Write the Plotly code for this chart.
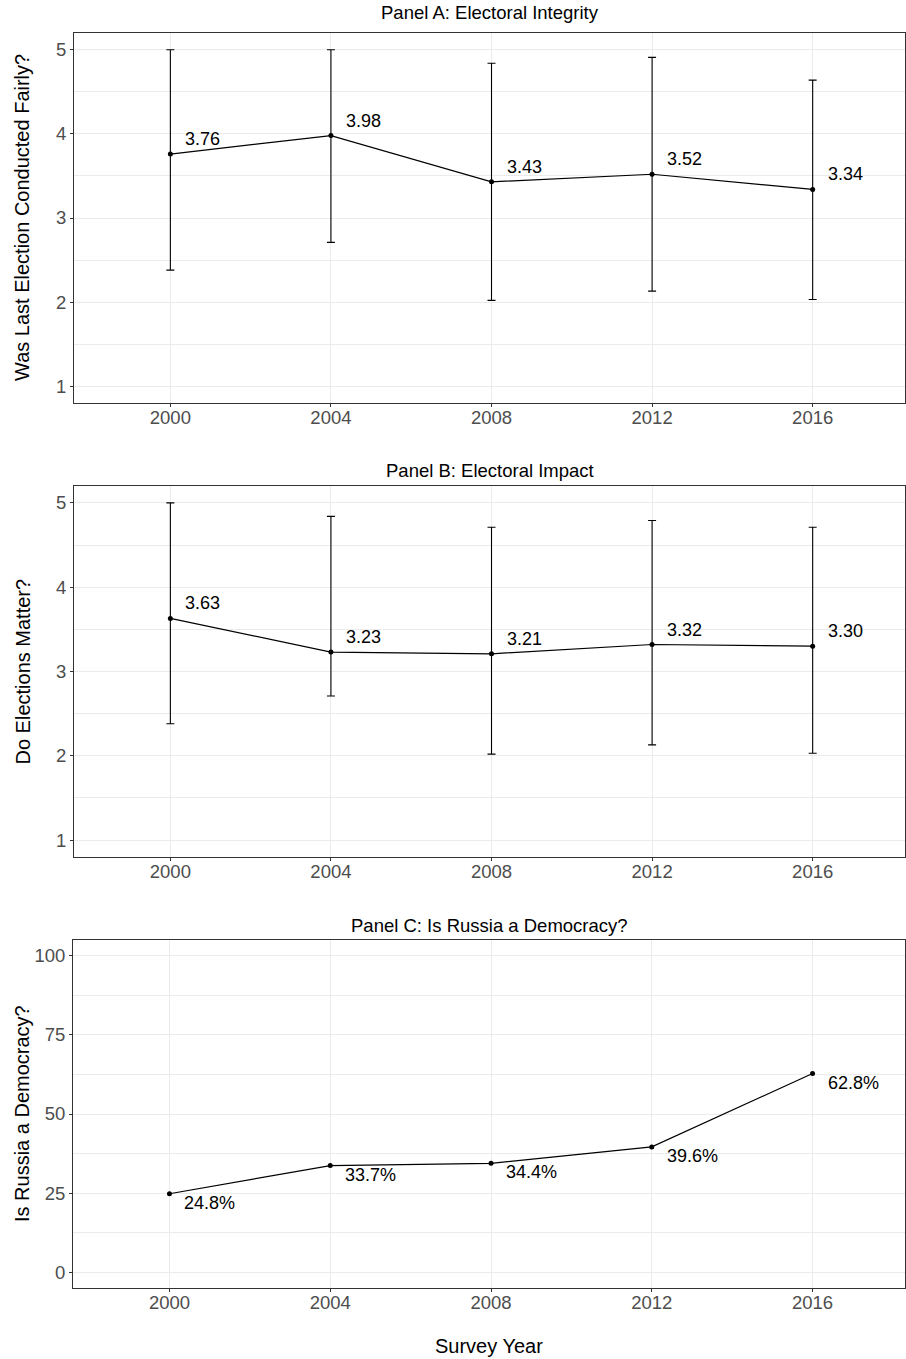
import plotly.graph_objects as go

# 資料
years = [2000, 2004, 2008, 2012, 2016]

fair_mean = [3.76, 3.98, 3.43, 3.52, 3.34]
fair_hi = [5.00, 5.00, 4.84, 4.91, 4.64]
fair_lo = [2.38, 2.71, 2.02, 2.13, 2.03]

matter_mean = [3.63, 3.23, 3.21, 3.32, 3.30]
matter_hi = [5.00, 4.84, 4.71, 4.79, 4.71]
matter_lo = [2.38, 2.71, 2.02, 2.13, 2.03]

democ_pct = [24.8, 33.7, 34.4, 39.6, 62.8]

likert_ticks = [1, 2, 3, 4, 5]
pct_ticks = [0, 25, 50, 75, 100]

W, H = 906, 1359
FONT = "Liberation Sans, Arial, Helvetica, sans-serif"
GRID = "#EBEBEB"
AXC = "#333333"
TICKC = "#4D4D4D"

# 每個面板的像素位置 (left, right, top, bottom, 標題中心 y)
panels = [
    (74, 905, 33, 403, 12),
    (74, 905, 486, 857, 470),
    (73, 905, 940, 1288, 925),
]

fig = go.Figure()


def dom_x(l, r):
    return [l / W, r / W]


def dom_y(t, b):
    return [1 - b / H, 1 - t / H]


def add_panel(i, mean, hi=None, lo=None, fmt="{:.2f}", below=False):
    xa = "x" if i == 1 else f"x{i}"
    ya = "y" if i == 1 else f"y{i}"
    err = None
    if hi is not None:
        err = dict(type="data", symmetric=False,
                   array=[h - m for h, m in zip(hi, mean)],
                   arrayminus=[m - l for m, l in zip(mean, lo)],
                   color="black", thickness=1.1, width=4)
    fig.add_trace(go.Scatter(
        x=years, y=mean, mode="lines+markers", xaxis=xa, yaxis=ya,
        line=dict(color="black", width=1.2),
        marker=dict(color="black", size=5),
        error_y=err, showlegend=False, hoverinfo="skip"))
    for x, y in zip(years, mean):
        fig.add_annotation(x=x, y=y, xref=xa, yref=ya, text=fmt.format(y),
                           showarrow=False, xanchor="left", yanchor="middle",
                           xshift=13, yshift=-9 if below else 15,
                           font=dict(size=18, color="black", family=FONT))


add_panel(1, fair_mean, fair_hi, fair_lo)
add_panel(2, matter_mean, matter_hi, matter_lo)
add_panel(3, democ_pct, fmt="{:.1f}%", below=True)

titles = ["Panel A: Electoral Integrity", "Panel B: Electoral Impact",
          "Panel C: Is Russia a Democracy?"]
ytitles = ["Was Last Election Conducted Fairly?", "Do Elections Matter?",
           "Is Russia a Democracy?"]

layout = {}
for i, (l, r, t, b, ty) in enumerate(panels, start=1):
    sx = "" if i == 1 else str(i)
    if i < 3:
        yr, yt, yminor = [0.8, 5.2], likert_ticks, 0.5
    else:
        yr, yt, yminor = [-5, 105], pct_ticks, 12.5
    layout[f"xaxis{sx}"] = dict(
        domain=dom_x(l, r), anchor=f"y{sx}", range=[1997.6, 2018.3],
        tickvals=years, ticks="outside", ticklen=3, tickcolor=AXC,
        ticklabelstandoff=-5,
        tickfont=dict(size=18.5, color=TICKC, family=FONT),
        showgrid=True, gridcolor=GRID, gridwidth=1, zeroline=False,
        showline=True, linecolor=AXC, linewidth=1, mirror=True)
    layout[f"yaxis{sx}"] = dict(
        domain=dom_y(t, b), anchor=f"x{sx}", range=yr,
        tickvals=yt, ticks="outside", ticklen=3, tickcolor=AXC,
        tickfont=dict(size=18.5, color=TICKC, family=FONT),
        showgrid=True, gridcolor=GRID, gridwidth=1, zeroline=False,
        minor=dict(dtick=yminor, tick0=0, showgrid=True, gridcolor=GRID,
                   gridwidth=0.8, ticks=""),
        showline=True, linecolor=AXC, linewidth=1, mirror=True)
    # 面板標題
    fig.add_annotation(x=(l + r) / 2 / W, y=1 - ty / H,
                       xref="paper", yref="paper",
                       text=titles[i - 1], showarrow=False, yanchor="middle",
                       font=dict(size=18.5, color="black", family=FONT))
    # y 軸標題
    fig.add_annotation(x=22 / W, y=1 - (t + b) / 2 / H,
                       xref="paper", yref="paper",
                       text=ytitles[i - 1], showarrow=False, textangle=-90,
                       xanchor="center", yanchor="middle",
                       font=dict(size=20, color="black", family=FONT))

fig.add_annotation(x=489 / W, y=1 - 1346 / H, xref="paper", yref="paper",
                   text="Survey Year", showarrow=False, yanchor="middle",
                   font=dict(size=20, color="black", family=FONT))

fig.update_layout(
    width=W, height=H, margin=dict(l=0, r=0, t=0, b=0),
    paper_bgcolor="white", plot_bgcolor="white",
    font=dict(family=FONT), showlegend=False, **layout)

# 去掉 body 預設 8px 邊距，避免頁面溢出被縮放
fig.write_html("out.html", config={"displayModeBar": False},
               post_script="document.body.style.margin='0';")
